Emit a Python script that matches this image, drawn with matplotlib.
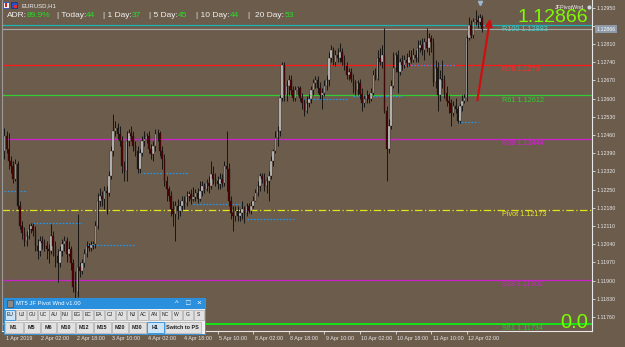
import matplotlib
matplotlib.use('Agg')
import matplotlib.pyplot as plt
import matplotlib.patches as mpatches
import matplotlib.transforms as mtransforms
import numpy as np

plt.rcParams['font.family'] = ['Liberation Sans', 'DejaVu Sans']

# ---------------------------------------------------------------------------
# data (prices as 5-digit fractions: 12457 -> 1.12457)
# ---------------------------------------------------------------------------
first_open = 12399
closes = [
    12457, 12407, 12360, 12341, 12291, 12349, 12186, 12109, 12082, 12051,
    12070, 12097, 12109, 12089, 12031, 12012, 12051, 12043, 12031, 12020,
    12012, 12070, 12031, 11993, 11966, 12012, 12039, 12051, 12004, 12020,
    11966, 11877, 11857, 11954, 11935, 11966, 12004, 12031, 12024, 12035,
    12039, 12109, 12205, 12225, 12213, 12244, 12236, 12302, 12399, 12476,
    12488, 12465, 12438, 12341, 12321, 12438, 12468, 12457, 12418, 12399,
    12329, 12391, 12438, 12445, 12457, 12407, 12387, 12418, 12465, 12468,
    12399, 12368, 12283, 12252, 12225, 12174, 12155, 12186, 12167, 12186,
    12205, 12198, 12225, 12233, 12213, 12221, 12236, 12213, 12244, 12263,
    12252, 12275, 12263, 12310, 12291, 12283, 12271, 12291, 12275, 12341,
    12329, 12205, 12159, 12147, 12167, 12147, 12159, 12174, 12159, 12186,
    12167, 12186, 12205, 12236, 12263, 12302, 12291, 12263, 12283, 12302,
    12360, 12399, 12449, 12476, 12604, 12728, 12612, 12650, 12670, 12631,
    12604, 12631, 12639, 12604, 12581, 12554, 12584, 12600, 12631, 12658,
    12670, 12639, 12612, 12623, 12650, 12670, 12755, 12786, 12739, 12766,
    12755, 12778, 12739, 12724, 12689, 12701, 12677, 12650, 12631, 12658,
    12619, 12584, 12600, 12612, 12600, 12623, 12689, 12677, 12755, 12739,
    12766, 12554, 12407, 12496, 12650, 12716, 12766, 12701, 12739, 12728,
    12747, 12735, 12759, 12747, 12766, 12755, 12793, 12805, 12786, 12817,
    12793, 12832, 12817, 12662, 12716, 12612, 12677, 12670, 12623, 12592,
    12581, 12546, 12573, 12561, 12515, 12573, 12592, 12604, 12832, 12882,
    12844, 12894, 12902, 12894, 12909, 12866,
]
highs = [
    12488, 12476, 12468, 12379, 12360, 12368, 12360, 12205, 12128, 12105,
    12089, 12116, 12120, 12120, 12109, 12058, 12070, 12070, 12058, 12051,
    12039, 12116, 12089, 12051, 12020, 12031, 12058, 12070, 12066, 12051,
    12031, 11981, 11935, 12155, 11973, 11981, 12020, 12051, 12043, 12051,
    12051, 12128, 12236, 12256, 12244, 12263, 12263, 12321, 12418, 12542,
    12515, 12507, 12496, 12457, 12360, 12476, 12484, 12496, 12476, 12438,
    12418, 12407, 12457, 12476, 12468, 12476, 12426, 12438, 12484, 12484,
    12476, 12418, 12387, 12302, 12263, 12244, 12205, 12205, 12213, 12205,
    12225, 12225, 12244, 12244, 12252, 12260, 12252, 12256, 12283, 12283,
    12275, 12291, 12302, 12360, 12341, 12314, 12302, 12314, 12310, 12360,
    12476, 12353, 12225, 12186, 12186, 12186, 12174, 12205, 12186, 12198,
    12198, 12205, 12225, 12252, 12283, 12314, 12314, 12314, 12298, 12321,
    12379, 12407, 12476, 12496, 12612, 12739, 12739, 12670, 12689, 12689,
    12650, 12650, 12650, 12650, 12623, 12600, 12608, 12619, 12650, 12677,
    12685, 12685, 12662, 12639, 12670, 12689, 12778, 12805, 12797, 12786,
    12793, 12813, 12793, 12766, 12739, 12716, 12716, 12693, 12670, 12670,
    12677, 12639, 12612, 12631, 12623, 12639, 12708, 12716, 12786, 12793,
    12805, 12871, 12573, 12523, 12670, 12778, 12778, 12786, 12755, 12766,
    12766, 12774, 12786, 12786, 12793, 12786, 12824, 12824, 12832, 12832,
    12871, 12851, 12844, 12832, 12747, 12739, 12708, 12747, 12689, 12650,
    12612, 12600, 12592, 12604, 12573, 12584, 12612, 12619, 12844, 12913,
    12902, 12909, 12940, 12921, 12925, 12921,
]
lows = [
    12368, 12391, 12329, 12314, 12275, 12283, 12174, 12097, 12058, 12031,
    12031, 12058, 12082, 12070, 12012, 11981, 11993, 12020, 12012, 11981,
    11966, 12004, 11993, 11954, 11896, 11954, 11993, 12012, 11973, 11993,
    11942, 11857, 11830, 11838, 11915, 11927, 11954, 11989, 12012, 12012,
    12020, 12027, 12097, 12186, 12186, 12174, 12155, 12225, 12291, 12379,
    12457, 12445, 12418, 12314, 12283, 12283, 12418, 12438, 12399, 12379,
    12314, 12314, 12379, 12418, 12430, 12391, 12368, 12360, 12399, 12438,
    12379, 12329, 12263, 12205, 12205, 12147, 12109, 12051, 12136, 12147,
    12167, 12174, 12186, 12205, 12194, 12205, 12205, 12198, 12205, 12225,
    12236, 12244, 12236, 12252, 12271, 12263, 12252, 12252, 12260, 12263,
    12244, 12186, 12136, 12089, 12128, 12128, 12128, 12136, 12120, 12147,
    12159, 12155, 12178, 12205, 12225, 12244, 12275, 12244, 12236, 12205,
    12291, 12341, 12391, 12418, 12457, 12592, 12592, 12592, 12612, 12612,
    12592, 12592, 12612, 12592, 12561, 12534, 12546, 12569, 12584, 12612,
    12639, 12623, 12600, 12561, 12608, 12631, 12650, 12739, 12728, 12724,
    12739, 12739, 12728, 12708, 12677, 12670, 12662, 12623, 12612, 12612,
    12600, 12554, 12569, 12584, 12584, 12592, 12612, 12670, 12670, 12728,
    12716, 12546, 12283, 12391, 12484, 12639, 12701, 12623, 12689, 12708,
    12716, 12720, 12724, 12735, 12739, 12739, 12739, 12778, 12766, 12747,
    12778, 12766, 12778, 12650, 12639, 12554, 12592, 12639, 12604, 12573,
    12546, 12496, 12534, 12546, 12507, 12507, 12554, 12581, 12592, 12824,
    12832, 12832, 12882, 12871, 12882, 12855,
]

# daily dotted levels (bar index start / end, price)
day_starts = [0, 13, 37, 61, 85, 109, 133, 157, 180, 204]
day_ends = [10, 35, 59, 83, 107, 131, 155, 179, 203, 213]
day_levels = [12244, 12120, 12035, 12314, 12194, 12136, 12600, 12608, 12728, 12511]

pivot_names = ['R100', 'R78', 'R61', 'R38', 'Pivot', 'S38', 'S61']
pivot_values = [1.12883, 1.1273, 1.12612, 1.12444, 1.12173, 1.11902, 1.11734]
pivot_line_colors = ['#1fb3b3', '#ff1a1a', '#33cc33', '#cc22cc', '#e3e31a', '#cc22cc', '#11ee11']
pivot_text_colors = ['#45d0d0', '#ff2a2a', '#33cc33', '#d020d0', '#e6e62a', '#d020d0', '#22cc22']
pivot_styles = ['-', '-', '-', '-', (0, (6, 2, 1, 2)), '-', '-']
pivot_widths = [0.9, 0.9, 0.9, 0.9, 0.9, 0.9, 1.3]

bid = 1.12866
symbol = 'EURUSD,H1'
adr_pct = '89.9%'
adr_periods = ['Today', '1 Day', '5 Day', '10 Day', '20 Day']
adr_values = [44, 37, 45, 44, 53]

xtick_bars = [0, 16, 32, 48, 64, 80, 96, 112, 128, 144, 160, 176, 192, 208]
xtick_labels = ['1 Apr 2019', '2 Apr 02:00', '2 Apr 18:00', '3 Apr 10:00', '4 Apr 02:00',
                '4 Apr 18:00', '5 Apr 10:00', '8 Apr 02:00', '8 Apr 18:00', '9 Apr 10:00',
                '10 Apr 02:00', '10 Apr 18:00', '11 Apr 10:00', '12 Apr 02:00']
yticks = [1.11760, 1.11830, 1.11900, 1.11970, 1.12040, 1.12110, 1.12180, 1.12250,
          1.12320, 1.12390, 1.12460, 1.12530, 1.12600, 1.12670, 1.12740, 1.12810,
          1.12880, 1.12950]

pair_buttons = ['EU', 'UJ', 'GU', 'UC', 'AU', 'NU', 'EG', 'EC', 'EA', 'CJ', 'AJ', 'NJ',
                'AC', 'AN', 'NC', 'W', 'G', 'S']
tf_buttons = ['M1', 'M5', 'M6', 'M10', 'M12', 'M15', 'M20', 'M30', 'H1', 'Switch to PS']

# ---------------------------------------------------------------------------
BG = '#6c5c4c'
W, H = 625, 347

c = np.array(closes) / 1e5 + 1
hi = np.array(highs) / 1e5 + 1
lo = np.array(lows) / 1e5 + 1
o = np.concatenate([[first_open / 1e5 + 1], c[:-1]])
hi = np.maximum(hi, np.maximum(o, c))
lo = np.minimum(lo, np.minimum(o, c))
idx = np.arange(len(c))

fig = plt.figure(figsize=(W / 100, H / 100), dpi=100)
fig.patch.set_facecolor(BG)
ax = fig.add_axes([2 / W, 16 / H, 590 / W, 331 / H])
ax.set_facecolor(BG)
ax.set_xlim(-1.03, 264.4)
ax.set_ylim(1.11706, 1.12979)

# pivot lines + labels
for name, v, lc, tc, ls, lw in zip(pivot_names, pivot_values, pivot_line_colors,
                                   pivot_text_colors, pivot_styles, pivot_widths):
    ax.axhline(v, color=lc, lw=lw, ls=ls, zorder=2)
    ax.annotate(f'{name} {v:g}', xy=(224, v), xytext=(0, -3.3), textcoords='offset points',
                color=tc, fontsize=5.2, ha='left', va='center', zorder=3)
ax.axhline(bid, color='#a8a8a8', lw=0.8, zorder=2)

# daily dotted levels
ax.hlines(np.array(day_levels) / 1e5 + 1, day_starts, day_ends, colors='#1e98f0',
          linestyles=(0, (1.3, 1.3)), lw=0.9, zorder=3)

# candles
bull = c >= o
ax.vlines(idx, lo, hi, color='#0a0a0a', lw=0.6, zorder=4)
ax.bar(idx[bull], (c - o)[bull], bottom=o[bull], width=0.68, color='#cfcfcf',
       edgecolor='#1a1a1a', linewidth=0.25, zorder=5)
ax.bar(idx[~bull], (o - c)[~bull], bottom=c[~bull], width=0.68, color='#520000',
       edgecolor='#1a1a1a', linewidth=0.25, zorder=5)

# axes styling
ax.spines['top'].set_visible(False)
ax.spines['left'].set_color('#9a9a9a')
ax.spines['right'].set_color('#e8e8e8')
ax.spines['bottom'].set_color('#e8e8e8')
for s in ['left', 'right', 'bottom']:
    ax.spines[s].set_linewidth(0.8)

ax.yaxis.tick_right()
ax.set_yticks(yticks)
ax.set_yticklabels(['' if abs(t - bid) < 0.0003 else f'{t:.5f}' for t in yticks])
ax.tick_params(axis='y', direction='out', length=2.2, width=0.6, color='#e0e0e0',
               labelsize=3.8, labelcolor='#e8e8e8', pad=1)
ax.set_xticks(xtick_bars)
ax.set_xticklabels(xtick_labels, ha='left')
ax.tick_params(axis='x', direction='out', length=2.2, width=0.6, color='#e0e0e0',
               labelsize=3.9, labelcolor='#e8e8e8', pad=1.5)
off = mtransforms.ScaledTranslation(1.5 / 100, 0, fig.dpi_scale_trans)
for lab in ax.get_xticklabels():
    lab.set_transform(lab.get_transform() + off)

# ---------------------------------------------------------------------------
# overlay in pixel coordinates for the terminal chrome
# ---------------------------------------------------------------------------
ov = fig.add_axes([0, 0, 1, 1], zorder=10)
ov.set_xlim(0, W)
ov.set_ylim(H, 0)
ov.axis('off')

# symbol icons + name
ov.add_patch(mpatches.Rectangle((3, 2), 6, 6, fc='#f2f2f2', ec='#2a4cc8', lw=0.6))
ov.add_patch(mpatches.Rectangle((5, 3), 1.6, 4, fc='#d02020', ec='none'))
ov.add_patch(mpatches.Rectangle((10.5, 2), 6, 6, fc='#2a4cc8', ec='#1a2a80', lw=0.5))
ov.add_patch(mpatches.Rectangle((13.5, 4.5), 3, 3.5, fc='#e03030', ec='none'))
ov.text(21, 5.5, symbol, fontsize=4.3, color='#f0f0f0', va='center', ha='left')

# ADR header
WHITE, GREEN = '#f0f0f0', '#22e022'
hdr_x = [7, 27, 57, 86, 103, 132, 149, 178, 196, 230, 247, 255, 285]
pieces = [('ADR:', WHITE), (adr_pct, GREEN)]
for k, (p, v) in enumerate(zip(adr_periods, adr_values)):
    if k == len(adr_periods) - 1:
        pieces += [('|', WHITE), (f'{p}:', WHITE), (str(v), GREEN)]
    else:
        pieces += [(f'| {p}:', WHITE), (str(v), GREEN)]
for x, (t, col) in zip(hdr_x, pieces):
    ov.text(x, 15.5, t, fontsize=6, color=col, va='center', ha='left')

# top right
ov.text(555, 7.5, 'JFPivotWnd', fontsize=3.9, color='#f0f0f0', va='center', ha='left')
ov.plot(588.5, 7, marker='o', ms=3.5, mfc='#d8d8d8', mec='#5a6a5a', mew=0.5)
ov.plot(480, 2.5, marker='v', ms=3, color='#9cb8d0')
ov.text(588, 17, f'{bid:.5f}', fontsize=14, color='#7cfc00', ha='right', va='center')
ov.text(588, 322, '0.0', fontsize=14.5, color='#7cfc00', ha='right', va='center')

# bid box on price scale
ov.text(596.5, 29.3, f'{bid:.5f}', fontsize=3.8, color='white', ha='left', va='center',
        bbox=dict(boxstyle='square,pad=0.3', fc='#8d9aa8', ec='none'))

# red arrow
ov.annotate('', xy=(490.5, 16), xytext=(477, 103),
            arrowprops=dict(arrowstyle='-|>', color='#cc1010', lw=1.6, mutation_scale=10))

# pivot window panel
ov.add_patch(mpatches.Rectangle((4, 298), 201, 36, fc='#f0f0f0', ec='#2a8fdc', lw=0.6))
ov.add_patch(mpatches.Rectangle((4, 298), 201, 10.5, fc='#2a8fdc', ec='none'))
ov.add_patch(mpatches.Rectangle((7, 299.5), 6, 7, fc='#8a8a8a', ec='#404040', lw=0.4))
ov.text(16, 303.3, 'MT5 JF Pivot Wnd v1.00', fontsize=4.2, color='white', va='center')
ov.text(177, 303.5, '^', fontsize=5.5, color='white', ha='center', va='center')
ov.text(188, 303.3, '\u25a1', fontsize=5.5, color='white', ha='center', va='center')
ov.text(199, 303.3, '\u00d7', fontsize=6, color='white', ha='center', va='center')

for k, b in enumerate(pair_buttons):
    x = 5 + 11.1 * k
    sel = k == 0
    ov.add_patch(mpatches.Rectangle((x, 310), 10.2, 9.5,
                                    fc='#cce4f7' if sel else '#e1e1e1',
                                    ec='#0078d7' if sel else '#adadad', lw=0.5))
    ov.text(x + 5.1, 314.9, b, fontsize=3.6, color='#202020', ha='center', va='center')

tf_spans = [(5, 22.5), (23.5, 39.5), (40.5, 56), (57, 74.5), (75.5, 92.5), (93.5, 111),
            (112, 127.5), (128.5, 146), (147, 163.5), (164.5, 201)]
for b, (x0, x1) in zip(tf_buttons, tf_spans):
    sel = b == 'H1'
    ov.add_patch(mpatches.Rectangle((x0, 321.5), x1 - x0, 11,
                                    fc='#cce4f7' if sel else '#e1e1e1',
                                    ec='#0078d7' if sel else '#adadad', lw=0.5))
    ov.text((x0 + x1) / 2, 327.2, b, fontsize=3.9, color='#202020', ha='center',
            va='center', fontweight='bold')

fig.savefig('out.png', dpi=100, facecolor=BG)
